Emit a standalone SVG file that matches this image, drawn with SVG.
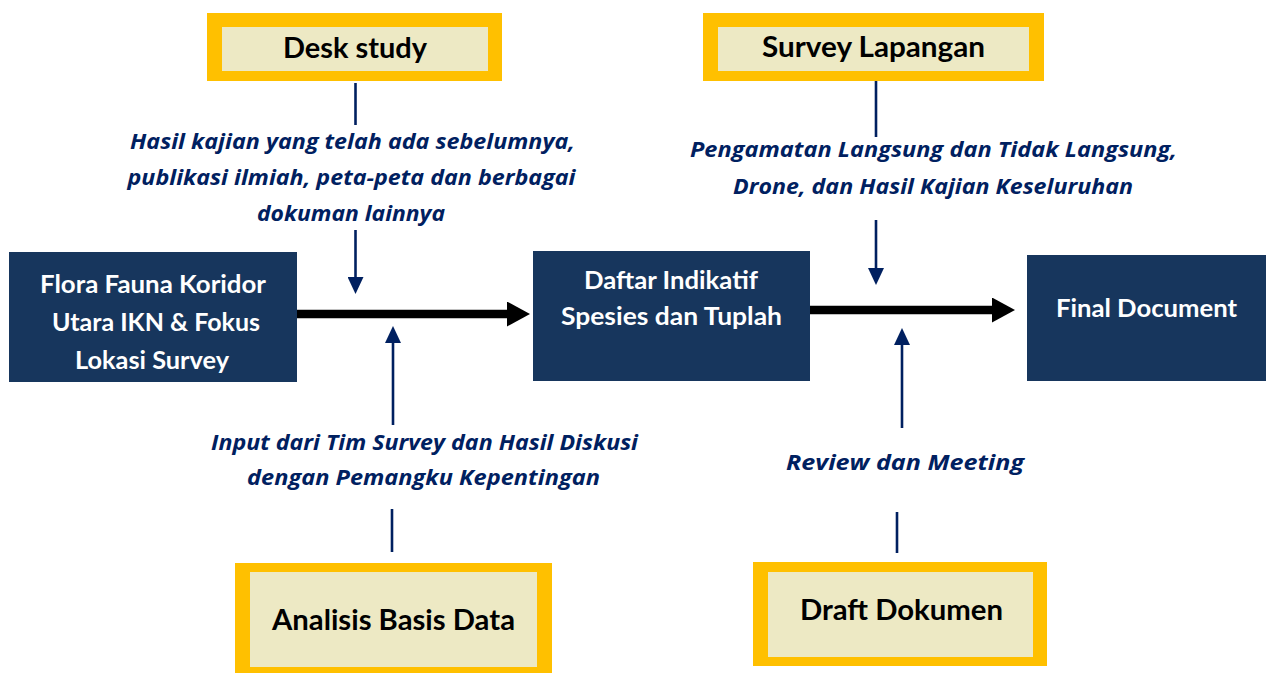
<svg xmlns="http://www.w3.org/2000/svg" width="1269" height="673" viewBox="0 0 1269 673">
  <style>
    .frame { fill: #FFC000; }
    .pad { fill: #EDE9C4; }
    .dark { fill: #17365D; }
    .ttl { font-family: Lato, "Liberation Sans", sans-serif; font-weight: 700; font-size: 28.5px; fill: #000000; text-anchor: middle; }
    .wt { font-family: Lato, "Liberation Sans", sans-serif; font-weight: 700; font-size: 24.5px; fill: #FFFFFF; text-anchor: middle; }
    .note { font-family: "Open Sans", "Liberation Sans", sans-serif; font-weight: 700; font-style: italic; font-size: 22px; fill: #002060; text-anchor: middle; }
    .flow { stroke: #000000; stroke-width: 8.5; fill: none; }
    .feed { stroke: #002060; stroke-width: 2.6; fill: none; }
  </style>
  <defs>
    <marker id="bigHead" markerUnits="userSpaceOnUse" markerWidth="24" markerHeight="25" refX="0" refY="12.5" orient="auto">
      <path d="M0,0 L23,12.5 L0,25 Z" fill="#000000"/>
    </marker>
    <marker id="smallHead" markerUnits="userSpaceOnUse" markerWidth="17" markerHeight="16" refX="0" refY="8" orient="auto">
      <path d="M0,0 L17,8 L0,16 Z" fill="#002060"/>
    </marker>
  </defs>

  <rect width="1269" height="673" fill="#FFFFFF"/>

  <!-- main flow and feed-in connectors -->
  <g id="connectors">
    <line class="flow" x1="297" y1="314" x2="507" y2="314" marker-end="url(#bigHead)"/>
    <line class="flow" x1="810" y1="310" x2="992" y2="310" marker-end="url(#bigHead)"/>

    <line class="feed" x1="355.5" y1="83" x2="355.5" y2="125"/>
    <line class="feed" x1="355.5" y1="230" x2="355.5" y2="277" marker-end="url(#smallHead)"/>

    <line class="feed" x1="876" y1="81" x2="876" y2="137"/>
    <line class="feed" x1="876" y1="220" x2="876" y2="268" marker-end="url(#smallHead)"/>

    <line class="feed" x1="392" y1="509" x2="392" y2="552"/>
    <line class="feed" x1="393" y1="425" x2="393" y2="343" marker-end="url(#smallHead)"/>

    <line class="feed" x1="897" y1="512" x2="897" y2="553"/>
    <line class="feed" x1="902" y1="428" x2="902" y2="345" marker-end="url(#smallHead)"/>
  </g>

  <!-- source boxes -->
  <g id="desk-study">
    <rect class="frame" x="207" y="13" width="295" height="68"/>
    <rect class="pad" x="222" y="27" width="266" height="44"/>
    <text class="ttl" x="355" y="58" textLength="144" lengthAdjust="spacingAndGlyphs">Desk study</text>
  </g>

  <g id="survey-lapangan">
    <rect class="frame" x="703" y="13" width="341" height="68"/>
    <rect class="pad" x="718" y="27" width="311" height="44"/>
    <text class="ttl" x="873.5" y="57" textLength="223" lengthAdjust="spacingAndGlyphs">Survey Lapangan</text>
  </g>

  <g id="analisis-basis-data">
    <rect class="frame" x="235" y="563" width="317" height="110"/>
    <rect class="pad" x="250" y="572" width="287" height="95"/>
    <text class="ttl" x="393.5" y="630" textLength="243" lengthAdjust="spacingAndGlyphs">Analisis Basis Data</text>
  </g>

  <g id="draft-dokumen">
    <rect class="frame" x="753" y="562" width="294" height="104"/>
    <rect class="pad" x="768" y="572" width="265" height="85"/>
    <text class="ttl" x="901.5" y="620" textLength="203" lengthAdjust="spacingAndGlyphs">Draft Dokumen</text>
  </g>

  <!-- process boxes -->
  <g id="flora-fauna">
    <rect class="dark" x="9" y="252" width="288" height="130"/>
    <text class="wt" x="153" y="293" textLength="226" lengthAdjust="spacingAndGlyphs">Flora Fauna Koridor</text>
    <text class="wt" x="156" y="331" textLength="208" lengthAdjust="spacingAndGlyphs">Utara IKN &amp; Fokus</text>
    <text class="wt" x="152" y="369" textLength="154" lengthAdjust="spacingAndGlyphs">Lokasi Survey</text>
  </g>

  <g id="daftar-indikatif">
    <rect class="dark" x="533" y="251" width="277" height="130"/>
    <text class="wt" x="671" y="288.5" textLength="174" lengthAdjust="spacingAndGlyphs">Daftar Indikatif</text>
    <text class="wt" x="671.5" y="325" textLength="221" lengthAdjust="spacingAndGlyphs">Spesies dan Tuplah</text>
  </g>

  <g id="final-document">
    <rect class="dark" x="1027" y="255" width="239" height="126"/>
    <text class="wt" x="1146.5" y="317" textLength="181" lengthAdjust="spacingAndGlyphs">Final Document</text>
  </g>

  <!-- connector notes -->
  <g id="note-desk">
    <text class="note" x="352.5" y="149" textLength="445" lengthAdjust="spacingAndGlyphs">Hasil kajian yang telah ada sebelumnya,</text>
    <text class="note" x="351.5" y="185" textLength="448" lengthAdjust="spacingAndGlyphs">publikasi ilmiah, peta-peta dan berbagai</text>
    <text class="note" x="351" y="221" textLength="188" lengthAdjust="spacingAndGlyphs">dokuman lainnya</text>
  </g>

  <g id="note-survey">
    <text class="note" x="933.5" y="157" textLength="487" lengthAdjust="spacingAndGlyphs">Pengamatan Langsung dan Tidak Langsung,</text>
    <text class="note" x="933" y="194" textLength="400" lengthAdjust="spacingAndGlyphs">Drone, dan Hasil Kajian Keseluruhan</text>
  </g>

  <g id="note-analisis">
    <text class="note" x="424.5" y="450" textLength="427" lengthAdjust="spacingAndGlyphs">Input dari Tim Survey dan Hasil Diskusi</text>
    <text class="note" x="423.5" y="485" textLength="353" lengthAdjust="spacingAndGlyphs">dengan Pemangku Kepentingan</text>
  </g>

  <g id="note-draft">
    <text class="note" x="905" y="470" textLength="238" lengthAdjust="spacingAndGlyphs">Review dan Meeting</text>
  </g>
</svg>
